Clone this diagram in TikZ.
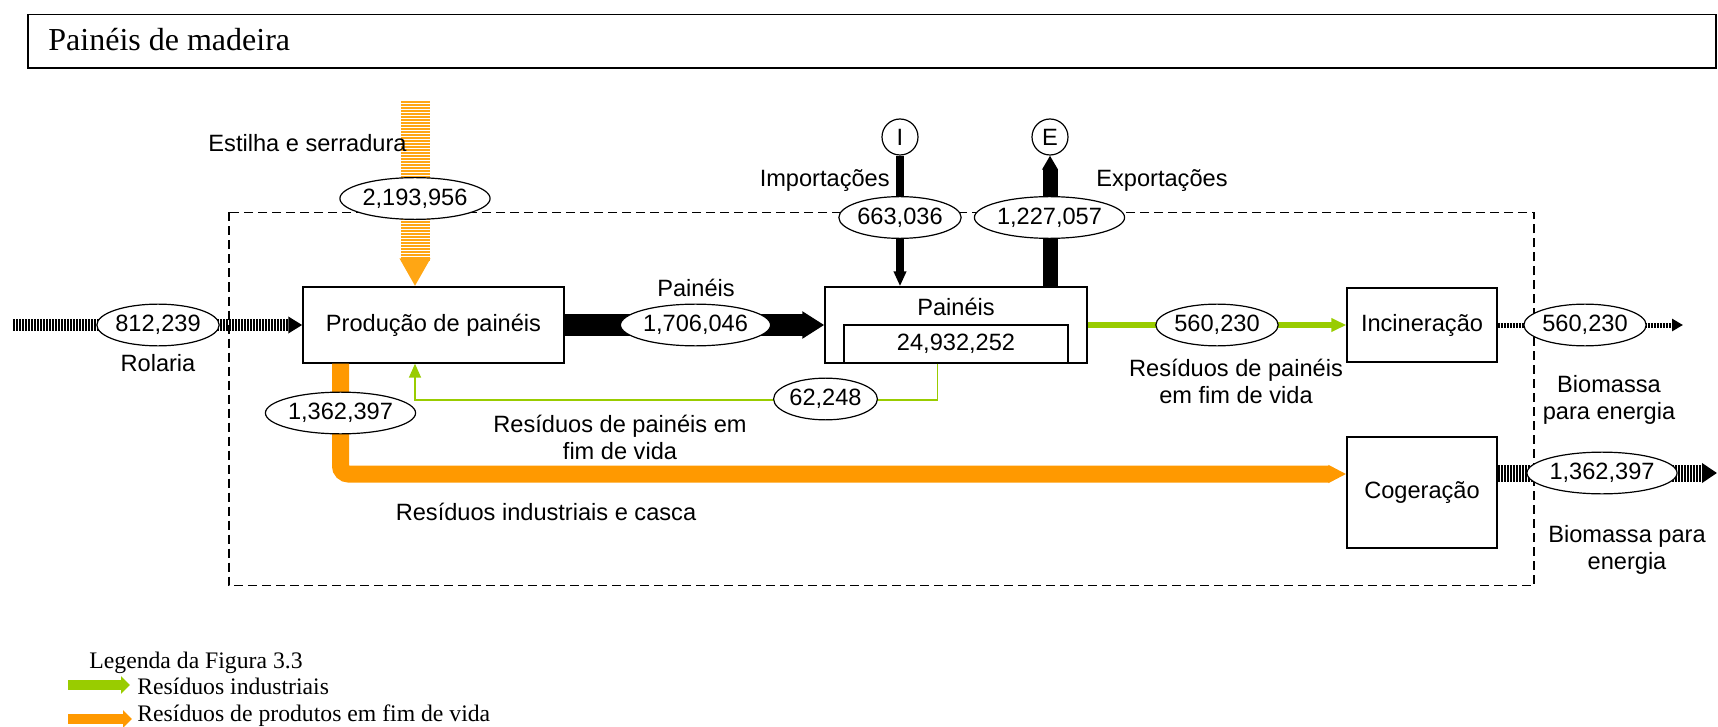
\documentclass[tikz,border=0pt]{standalone}
\usepackage{fontspec}
\setmainfont{Liberation Serif}
\setsansfont{Liberation Sans}
\usepackage{tikz}
\usetikzlibrary{arrows.meta,shapes.geometric,calc,positioning}
\definecolor{resgreen}{RGB}{153,204,0}
\definecolor{resorange}{RGB}{255,153,0}
\definecolor{chiporange}{RGB}{255,166,20}

\begin{document}
\begin{tikzpicture}[
x=0.5pt,y=-0.5pt,
font=\sffamily\fontsize{11.8}{13.5}\selectfont,
procbox/.style={draw,line width=0.7pt,inner sep=0pt},
valbox/.style={ellipse,draw,fill=white,line width=0.6pt,inner xsep=0.3pt,inner ysep=2.5pt},
lbl/.style={inner sep=0pt},
legtext/.style={inner sep=0pt,anchor=base west,font=\rmfamily\fontsize{11.85}{14}\selectfont},
hatchflow/.style={line width=#1,dash pattern=on 0.9pt off 0.6pt},
chipflow/.style={draw=chiporange,line width=14.5pt,dash pattern=on 0.8pt off 0.7pt},
scale=1]
    \useasboundingbox (0,0) rectangle (1718,727);

    % Title
    \draw[line width=0.8pt] (28,14.5) rectangle (1716,68);
    \node[lbl,anchor=base west,font=\rmfamily\fontsize{16}{19}\selectfont] (title) at (48,50.5) {Painéis de madeira};

    % System boundary
    \draw[line width=0.6pt,dash pattern=on 4.5pt off 2.5pt] (229,212.5) rectangle (1534,585.5);

    % Processes
    \node[procbox,minimum width=130.5pt,minimum height=38pt] (prod) at (433.5,325) {Produção de painéis};
    \node[procbox,minimum width=131pt,minimum height=38pt] (stock) at (956,325) {};
    \node[lbl] (stocktit) at (956,307) {Painéis};
    \node[procbox,minimum width=112pt,minimum height=19pt] (stockval) at (956,344) {24,932,252};
    \node[procbox,minimum width=75pt,minimum height=37pt] (inc) at (1422,325) {Incineração};
    \node[procbox,minimum width=75pt,minimum height=55.5pt] (cog) at (1422,492.5) {Cogeração};
    \node[circle,draw,line width=0.6pt,minimum size=18pt,inner sep=0pt] (imp) at (900,137) {I};
    \node[circle,draw,line width=0.6pt,minimum size=18pt,inner sep=0pt] (exp) at (1050,137) {E};

    \coordinate (rolin) at (13,325);
    \coordinate (chipin) at (415,101);
    \coordinate (incout) at (1683,325);
    \coordinate (cogout) at (1717,473);

    % Flows
    \draw[hatchflow=6pt,-{Triangle[length=7pt,width=8pt]}] (rolin) -- (prod.west);
    \draw[chipflow,-{Triangle[length=14pt,width=14.5pt]}] (chipin) -- (chipin |- prod.north);
    \draw[line width=11pt,-{Triangle[length=11pt,width=13pt]}] (prod.east) -- (stock.west);
    \draw[line width=3.8pt,-{Triangle[length=7.5pt,width=6pt]}] (imp.south) -- (imp.south |- stock.north);
    \draw[line width=7.5pt,-{Triangle[length=7pt,width=7.5pt]}] (exp.south |- stock.north) -- (exp.south);
    \draw[resgreen,line width=3.3pt,-{Triangle[length=7.5pt,width=6.5pt]}] (stock.east) -- (inc.west);
    \draw[resgreen,line width=0.8pt,-{Triangle[length=7pt,width=6pt]}]
        ($(stockval.south)+(-18.5,0)$) -- ++(0,36) -| ($(prod.south)+(-18.5,0)$);
    \draw[resorange,line width=8.5pt,rounded corners=4pt,-{Triangle[length=9pt,width=8.5pt]}]
        ($(prod.south)+(-93,0)$) |- ($(cog.west)+(0,-18.5)$);
    \draw[hatchflow=2.5pt,-{Triangle[length=5.5pt,width=6pt]}] (inc.east) -- (incout);
    \draw[hatchflow=8.5pt,-{Triangle[length=7.5pt,width=9.5pt]}] (cog.east |- cogout) -- (cogout);

    % Values
    \node[valbox] (vrol) at (158,325) {812,239};
    \node[valbox] (vchip) at (415,198.5) {2,193,956};
    \node[valbox] (vpan) at (695.5,325) {1,706,046};
    \node[valbox] (vimp) at (900,217.5) {663,036};
    \node[valbox] (vexp) at (1049.5,217.5) {1,227,057};
    \node[valbox] (vinc) at (1217,325) {560,230};
    \node[valbox] (vincout) at (1585,325) {560,230};
    \node[valbox] (vback) at (825.5,399) {62,248};
    \node[valbox] (vres) at (340.5,413) {1,362,397};
    \node[valbox] (vcog) at (1602,473) {1,362,397};

    % Labels
    \node[lbl] (lchip) at (307.5,143) {Estilha e serradura};
    \node[lbl] (lrol) at (158,363) {Rolaria};
    \node[lbl] (lpan) at (696,288) {Painéis};
    \node[lbl,anchor=east] (limp) at (890,181) {Importações};
    \node[lbl,anchor=west] (lexp) at (1096,181) {Exportações};
    \node[lbl,align=center] (lincres) at (1236,381.5) {Resíduos de painéis\\em fim de vida};
    \node[lbl,align=center] (lback) at (620,437) {Resíduos de painéis em\\fim de vida};
    \node[lbl] (lind) at (546,511.5) {Resíduos industriais e casca};
    \node[lbl,align=center] (lbio1) at (1609,399.5) {Biomassa\\para energia};
    \node[lbl,align=center] (lbio2) at (1627,549.5) {Biomassa para\\energia};

    % Legend
    \node[legtext] (leg) at (89,668) {Legenda da Figura 3.3};
    \node[legtext] (legind) at (137,694) {Resíduos industriais};
    \node[legtext] (legeol) at (137,721.7) {Resíduos de produtos em fim de vida};
    \draw[resgreen,line width=5pt,-{Triangle[length=4.5pt,width=8.5pt]}]
        ($(legind.base west)+(-69,-9)$) -- ($(legind.base west)+(-7,-9)$);
    \draw[resorange,line width=5pt,-{Triangle[length=4.5pt,width=8.5pt]}]
        ($(legeol.base west)+(-69,-2.7)$) -- ($(legeol.base west)+(-5,-2.7)$);

\end{tikzpicture}
\end{document}
